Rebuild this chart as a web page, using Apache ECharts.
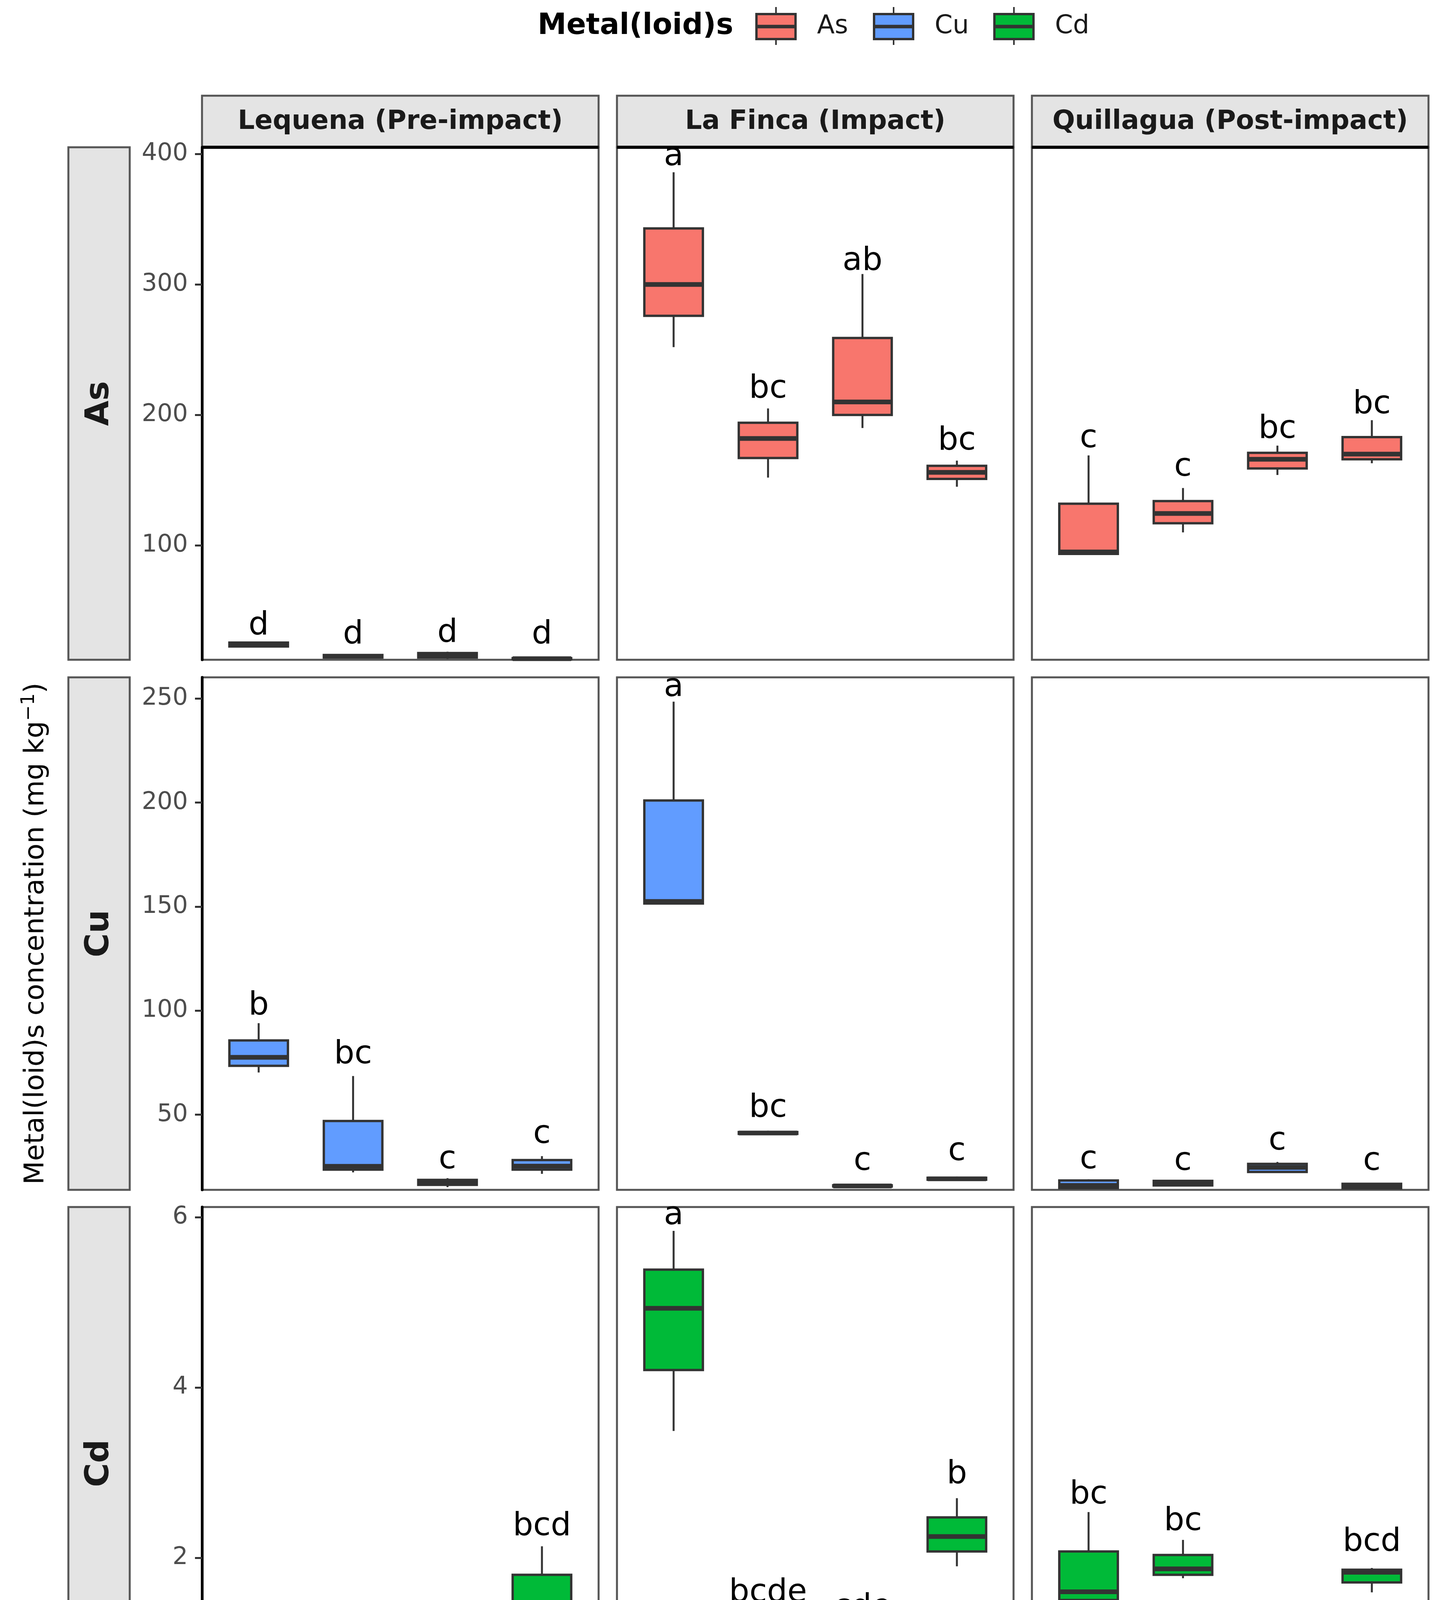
<!DOCTYPE html>
<html lang="en">
<head>
    <meta charset="UTF-8">
    <script src="https://cdn.jsdelivr.net/npm/echarts@6.0.0/dist/echarts.min.js"></script>
    <style>
        body { margin: 0; background: #fff; }
    </style>
</head>
<body>
<div id="chart" style="width: 3688px;height:4702px;"></div>
<script type="text/javascript">

    // categories
    var years = ["2014", "2015", "2017", "2023"];
    var sites = ["Lequena (Pre-impact)", "La Finca (Impact)", "Quillagua (Post-impact)"];
    var metals = ["As", "Cu", "Cd"];
    var metalColors = ["#F8766D", "#619CFF", "#00BA38"];

    // box stats per year: [min, q1, median, q3, max]  (mg kg-1)
    var asLequena   = [[22, 22.5, 24, 25.5, 26], [13.5, 14, 15, 16, 16.5], [13, 14, 16, 17.5, 18.5], [12.5, 12.8, 13.2, 13.6, 14]];
    var asLaFinca   = [[252, 276, 300, 343, 386], [152, 167, 182, 194, 205], [190, 200, 210, 259, 308], [145, 151, 156, 161, 165]];
    var asQuillagua = [[93, 93.5, 95, 132, 169], [110, 117, 124.5, 134, 144], [154, 159, 166, 171, 176.5], [163, 166, 170, 183, 196]];

    var cuLequena   = [[70.3, 73.5, 77.6, 85.7, 94], [22.3, 23.6, 25.2, 47, 68.6], [15.2, 16.3, 17.6, 18.7, 19.5], [21.6, 23.6, 25.3, 28.2, 30.1]];
    var cuLaFinca   = [[151, 151.5, 152.5, 201, 248.5], [40.3, 40.8, 41.2, 41.7, 42.3], [15.2, 15.5, 15.8, 16.1, 16.5], [18.4, 18.8, 19.2, 19.7, 20.3]];
    var cuQuillagua = [[14.5, 14.8, 16, 18.4, 19], [15.8, 16, 17, 18.2, 18.5], [22, 22.5, 24.7, 26.4, 27.3], [14.4, 14.6, 15.9, 16.8, 17]];

    var cdLequena   = [[0.48, 0.49, 0.5, 0.51, 0.52], [0.48, 0.49, 0.5, 0.51, 0.52], [0.11, 0.115, 0.12, 0.125, 0.13], [0.98, 1.205, 1.45, 1.8, 2.135]];
    var cdLaFinca   = [[3.49, 4.205, 4.93, 5.385, 5.84], [1.27, 1.28, 1.29, 1.3, 1.31], [0.65, 0.66, 0.68, 0.94, 1.184], [1.9, 2.074, 2.25, 2.475, 2.7]];
    var cdQuillagua = [[1.41, 1.504, 1.6, 2.074, 2.537], [1.76, 1.8, 1.87, 2.033, 2.21], [0.11, 0.115, 0.12, 0.125, 0.13], [1.594, 1.71, 1.83, 1.86, 1.88]];

    // significance letters and the height they sit at
    var asLetters = [["d", "d", "d", "d"], ["a", "bc", "ab", "bc"], ["c", "c", "bc", "bc"]];
    var asLetterY = [[29.5, 22.5, 23.8, 22.5], [389, 211, 309, 171], [173, 151, 180, 199]];
    var cuLetters = [["b", "bc", "c", "c"], ["a", "bc", "c", "c"], ["c", "c", "c", "c"]];
    var cuLetterY = [[96.8, 73.3, 22.8, 35], [249.7, 47.6, 22, 26.8], [22.8, 22, 31.7, 22]];
    var cdLetters = [["de", "de", "e", "bcd"], ["a", "bcde", "cde", "b"], ["bc", "bc", "e", "bcd"]];
    var cdLetterY = [[0.69, 0.59, 0.18, 2.23], [5.885, 1.45, 1.275, 2.84], [2.6, 2.29, 0.27, 2.045]];

    // y scales per row
    var yMin = [12.35, 13.9, 0.1];
    var yMax = [405.2, 260.2, 6.12];
    var yTicks = [[100, 200, 300, 400], [50, 100, 150, 200, 250], [2, 4, 6]];

    var stats = [[asLequena, asLaFinca, asQuillagua], [cuLequena, cuLaFinca, cuQuillagua], [cdLequena, cdLaFinca, cdQuillagua]];
    var letters = [asLetters, cuLetters, cdLetters];
    var letterY = [asLetterY, cuLetterY, cdLetterY];

    // layout
    var FONT = "DejaVu Sans";
    var colLeft = [517, 1579, 2641], panelW = 1015;
    var rowTop = [377, 1734, 3090], panelH = 1312;
    var boxWidth = 0.62;
    var dark = "#333333";

    function boxRender(color) {
        return function (params, api) {
            var x = api.value(0);
            var lo = api.coord([x, api.value(1)]);
            var q1 = api.coord([x, api.value(2)]);
            var md = api.coord([x, api.value(3)]);
            var q3 = api.coord([x, api.value(4)]);
            var hi = api.coord([x, api.value(5)]);
            var w = api.size([boxWidth, 0])[0];
            return {
                type: "group",
                children: [
                    { type: "line", shape: { x1: hi[0], y1: hi[1], x2: q3[0], y2: q3[1] }, style: { stroke: dark, lineWidth: 5 } },
                    { type: "line", shape: { x1: q1[0], y1: q1[1], x2: lo[0], y2: lo[1] }, style: { stroke: dark, lineWidth: 5 } },
                    { type: "rect", shape: { x: q3[0] - w / 2, y: q3[1], width: w, height: q1[1] - q3[1] },
                      style: { fill: color, stroke: dark, lineWidth: 6 } },
                    { type: "line", shape: { x1: md[0] - w / 2, y1: md[1], x2: md[0] + w / 2, y2: md[1] },
                      style: { stroke: dark, lineWidth: 12 } }
                ]
            };
        };
    }

    function letterRender(txt) {
        return function (params, api) {
            var p = api.coord([api.value(0), api.value(1)]);
            return {
                type: "text", x: p[0], y: p[1] + 12,
                style: { text: txt[params.dataIndex], fill: "#000", font: "82px '" + FONT + "'",
                         align: "center", verticalAlign: "bottom" }
            };
        };
    }

    var grids = [], xAxes = [], yAxes = [], series = [];
    for (var r = 0; r < 3; r++) {
        for (var c = 0; c < 3; c++) {
            var gi = r * 3 + c;
            grids.push({ left: colLeft[c], top: rowTop[r], width: panelW, height: panelH,
                         show: true, borderColor: "#555", borderWidth: 5, backgroundColor: "#fff",
                         outerBoundsMode: "none" });
            var bottom = r === 2, left = c === 0;
            xAxes.push({
                type: "value", gridIndex: gi, min: 0.4, max: 4.6,
                splitLine: { show: false },
                axisLine: { show: bottom, onZero: false, lineStyle: { color: "#000", width: 7 } },
                axisTick: { show: bottom, customValues: [1, 2, 3, 4], length: 20, lineStyle: { color: dark, width: 5 } },
                axisLabel: { show: bottom, customValues: [1, 2, 3, 4], rotate: 45, margin: 26,
                             fontSize: 60, color: "#4d4d4d", fontFamily: FONT,
                             formatter: function (v) { return years[Math.round(v) - 1]; } }
            });
            yAxes.push({
                type: "value", gridIndex: gi, min: yMin[r], max: yMax[r],
                splitLine: { show: false },
                axisLine: { show: left, onZero: false, lineStyle: { color: "#000", width: 7 } },
                axisTick: { show: left, customValues: yTicks[r], length: 18, lineStyle: { color: dark, width: 5 } },
                axisLabel: { show: left, customValues: yTicks[r], margin: 36,
                             fontSize: 62, color: "#4d4d4d", fontFamily: FONT }
            });
            series.push({
                type: "custom", name: metals[r], xAxisIndex: gi, yAxisIndex: gi,
                renderItem: boxRender(metalColors[r]),
                data: stats[r][c].map(function (s, i) { return [i + 1].concat(s); })
            });
            series.push({
                type: "custom", xAxisIndex: gi, yAxisIndex: gi, z: 5,
                renderItem: letterRender(letters[r][c]),
                data: letterY[r][c].map(function (y, i) { return [i + 1, y]; })
            });
        }
    }

    // strips, titles and legend
    var graphic = [];
    sites.forEach(function (s, c) {
        graphic.push({ type: "rect", shape: { x: colLeft[c], y: 245, width: panelW, height: 132 },
                       style: { fill: "#e4e4e4", stroke: "#555", lineWidth: 5 } });
        graphic.push({ type: "text", x: colLeft[c] + panelW / 2, y: 312,
                       style: { text: s, font: "bold 68px '" + FONT + "'", fill: "#1a1a1a", align: "center", verticalAlign: "middle" } });
        graphic.push({ type: "line", z: 10, shape: { x1: colLeft[c], y1: 377, x2: colLeft[c] + panelW, y2: 377 },
                       style: { stroke: "#000", lineWidth: 8 } });
    });
    metals.forEach(function (m, r) {
        graphic.push({ type: "rect", shape: { x: 175, y: rowTop[r], width: 157, height: panelH },
                       style: { fill: "#e4e4e4", stroke: "#555", lineWidth: 5 } });
        graphic.push({ type: "text", x: 255, y: rowTop[r] + panelH / 2, rotation: Math.PI / 2,
                       style: { text: m, font: "bold 84px '" + FONT + "'", fill: "#1a1a1a", align: "center", verticalAlign: "middle" } });
    });
    graphic.push({ type: "text", x: 93, y: 2390, rotation: Math.PI / 2,
                   style: { text: "{a|Metal(loid)s concentration (mg kg}{b|\u22121}{a|)}", align: "center", verticalAlign: "middle",
                            rich: { a: { fontSize: 70, fontFamily: FONT, fill: "#000", lineHeight: 84 },
                                    b: { fontSize: 48, fontFamily: FONT, fill: "#000", verticalAlign: "top", lineHeight: 84 } } } });
    graphic.push({ type: "text", x: 2089, y: 4633,
                   style: { text: "Year", font: "78px '" + FONT + "'", fill: "#000", align: "center", verticalAlign: "middle" } });

    // legend
    graphic.push({ type: "text", x: 1376, y: 68,
                   style: { text: "Metal(loid)s", font: "bold 74px '" + FONT + "'", fill: "#000", align: "left", verticalAlign: "middle" } });
    var keyX = [1936, 2237, 2545], keyW = 100;
    metals.forEach(function (m, k) {
        var cx = keyX[k] + keyW / 2;
        graphic.push({ type: "line", shape: { x1: cx, y1: 18, x2: cx, y2: 115 }, style: { stroke: dark, lineWidth: 4 } });
        graphic.push({ type: "rect", shape: { x: keyX[k], y: 36, width: keyW, height: 64 },
                       style: { fill: metalColors[k], stroke: dark, lineWidth: 6 } });
        graphic.push({ type: "line", shape: { x1: keyX[k], y1: 68, x2: keyX[k] + keyW, y2: 68 }, style: { stroke: dark, lineWidth: 9 } });
        graphic.push({ type: "text", x: keyX[k] + keyW + 55, y: 68,
                       style: { text: m, font: "66px '" + FONT + "'", fill: "#1a1a1a", align: "left", verticalAlign: "middle" } });
    });

    var chart = echarts.init(document.getElementById("chart"));
    chart.setOption({
        animation: false,
        textStyle: { fontFamily: FONT },
        grid: grids,
        xAxis: xAxes,
        yAxis: yAxes,
        series: series,
        graphic: graphic
    });
</script>
</body>
</html>
